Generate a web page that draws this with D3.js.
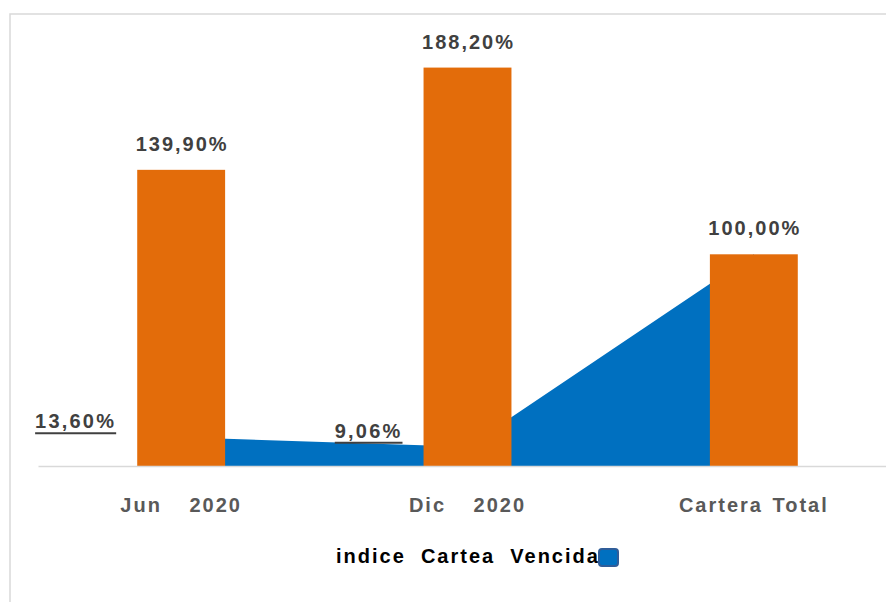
<!DOCTYPE html>
<html>
<head>
<meta charset="utf-8">
<script src="https://cdn.jsdelivr.net/npm/d3@7/dist/d3.min.js"></script>
<style>
  html, body { margin: 0; padding: 0; background: #ffffff; }
  svg { display: block; }
</style>
</head>
<body>
<svg id="chart" width="886" height="602"></svg>
<script>
// ---- Data ----
const categories = ["Jun 2020", "Dic 2020", "Cartera Total"];
const barValues = [139.90, 188.20, 100.00];          // orange bars
const areaValues = [13.60, 9.06, 100.00];            // blue area: indice Cartera Vencida
const areaLabelCount = 2;                            // labels visible for the first two points
const legendLabel = "indice  Cartea  Vencida";

// ---- Setup ----
const svg = d3.select("#chart");
const W = 886, H = 602;
const baseY = 466;

const fmt = d3.formatLocale({ decimal: ",", thousands: ".", grouping: [3], currency: ["", ""] }).format(".2f");
const pct = v => fmt(v) + "%";

const x = d3.scaleBand().domain(categories).range([38, 897]).padding(0);
const y = d3.scaleLinear().domain([0, 200]).range([baseY, baseY - 423.4]);
const cx = c => x(c) + x.bandwidth() / 2;
const barW = x.bandwidth() * 0.307;

// chart border
svg.append("rect")
  .attr("x", 10).attr("y", 14)
  .attr("width", W + 20).attr("height", H + 20)
  .attr("fill", "#ffffff")
  .attr("stroke", "#d9d9d9").attr("stroke-width", 1.5);

// area series
const area = d3.area()
  .x((d, i) => cx(categories[i]))
  .y0(y(0))
  .y1(d => y(d));
svg.append("path")
  .datum(areaValues)
  .attr("d", area)
  .attr("fill", "#0070C0");

// bars
svg.selectAll("rect.bar")
  .data(barValues)
  .join("rect")
  .attr("class", "bar")
  .attr("x", (d, i) => cx(categories[i]) - barW / 2)
  .attr("y", d => y(d))
  .attr("width", barW)
  .attr("height", d => y(0) - y(d))
  .attr("fill", "#E36C0A");

// x axis
const axis = d3.axisBottom(x).tickSize(0).tickPadding(0);
const gAxis = svg.append("g")
  .attr("transform", `translate(0,${baseY})`)
  .call(axis);
gAxis.select(".domain")
  .attr("stroke", "#d9d9d9").attr("stroke-width", 1.5);
gAxis.selectAll(".tick text")
  .attr("y", 46).attr("dy", 0)
  .attr("fill", "#595959")
  .style("font-family", "'Liberation Sans', Arial, sans-serif")
  .style("font-size", "20px")
  .style("font-weight", "bold")
  .style("letter-spacing", "2px")
  .style("word-spacing", "20px");
gAxis.selectAll(".tick text").filter(d => d === "Cartera Total")
  .style("word-spacing", "2px");

// bar labels
svg.selectAll("text.barlabel")
  .data(barValues)
  .join("text")
  .attr("class", "barlabel")
  .attr("x", (d, i) => cx(categories[i]) + 1)
  .attr("y", d => y(d) - 19)
  .attr("text-anchor", "middle")
  .attr("fill", "#404040")
  .style("font-family", "'Liberation Sans', Arial, sans-serif")
  .style("font-size", "20px")
  .style("font-weight", "bold")
  .style("letter-spacing", "2px")
  .text(d => pct(d));

// area labels (left of point, underlined)
const areaLab = svg.selectAll("g.arealabel")
  .data(areaValues.slice(0, areaLabelCount))
  .join("g")
  .attr("class", "arealabel");
areaLab.append("text")
  .attr("x", (d, i) => cx(categories[i]) - 65)
  .attr("y", d => y(d) - 9)
  .attr("text-anchor", "end")
  .attr("fill", "#404040")
  .style("font-family", "'Liberation Sans', Arial, sans-serif")
  .style("font-size", "20px")
  .style("font-weight", "bold")
  .style("letter-spacing", "2.2px")
  .text(d => pct(d));
areaLab.each(function(d, i) {
  const g = d3.select(this);
  const t = g.select("text").node();
  const bb = t.getBBox();
  g.append("line")
    .attr("x1", bb.x).attr("x2", bb.x + bb.width)
    .attr("y1", y(d) - 4).attr("y2", y(d) - 4)
    .attr("stroke", "#404040").attr("stroke-width", 2);
});

// legend
svg.append("text")
  .attr("x", 336).attr("y", 563)
  .attr("fill", "#000000")
  .style("font-family", "'Liberation Sans', Arial, sans-serif")
  .style("font-size", "20px")
  .style("font-weight", "bold")
  .style("letter-spacing", "2px")
  .style("white-space", "pre")
  .text(legendLabel);
svg.append("rect")
  .attr("x", 599).attr("y", 549)
  .attr("width", 19).attr("height", 17)
  .attr("rx", 3).attr("ry", 3)
  .attr("fill", "#0070C0")
  .attr("stroke", "#2f5d99").attr("stroke-width", 2);
</script>
</body>
</html>
